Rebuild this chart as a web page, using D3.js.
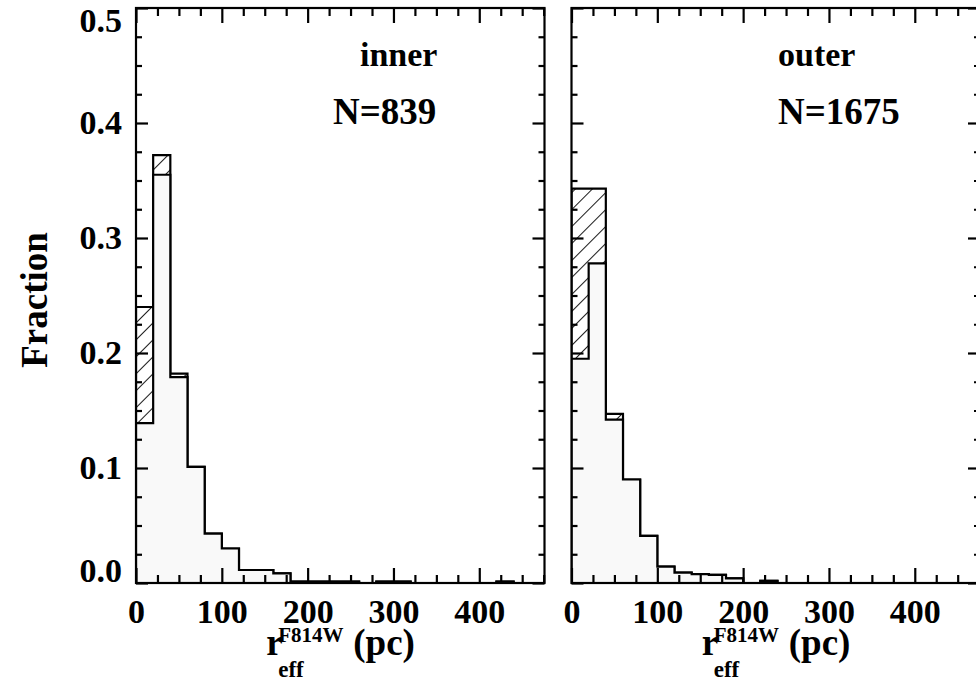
<!DOCTYPE html>
<html><head><meta charset="utf-8">
<script src="https://cdn.jsdelivr.net/npm/d3@7/dist/d3.min.js"></script>
<style>
body{margin:0;background:#fff}
svg{display:block}
text{font-family:"Liberation Serif","Times New Roman",serif;font-weight:bold;fill:#000}
</style>
</head><body>
<svg id="c" width="976" height="682"></svg>
<script>
// ---- data ----
const binStarts = [0,20,40,60,80,100,120,140,160,180,200,220,240,260,280,300,320,340,360,380,400,420,440,460];
const binWidth = 20;
const innerMain  = [0.139,0.355,0.179,0.101,0.043,0.030,0.0113,0.0113,0.0084,0.0012,0.0012,0.0012,0.0012,0,0.0012,0.0012,0,0,0,0,0,0.0012,0,0];
const innerHatch = [0.240,0.372,0.182,0.101,0.043,0.030,0.0113,0.0113,0.0084,0.0012,0.0012,0.0012,0.0012,0,0.0012,0.0012,0,0,0,0,0,0.0012,0,0];
const outerMain  = [0.195,0.278,0.142,0.090,0.041,0.0142,0.0090,0.0078,0.0070,0.0041,0,0.0018,0,0,0,0,0,0,0,0,0,0,0,0];
const outerHatch = [0.343,0.343,0.147,0.090,0.041,0.0142,0.0090,0.0078,0.0070,0.0041,0,0.0018,0,0,0,0,0,0,0,0,0,0,0,0];
const xMajor = [0,100,200,300,400];
const xMinor = [25,50,75,125,150,175,225,250,275,325,350,375,425,450,475];
const yMajor = [0.0,0.1,0.2,0.3,0.4,0.5];
const yMinor = [0.025,0.05,0.075,0.125,0.15,0.175,0.225,0.25,0.275,0.325,0.35,0.375,0.425,0.45,0.475];
const regionLabels = ["inner","outer"];
const countLabels = ["N=839","N=1675"];

// ---- layout ----
const W = 976, H = 682;
const yTop = 8, yBot = 583;
const panelRanges = [[136,544.5],[571.5,980]];
const xMax = 476;
const textPos = [{lx:360, nx:333},{lx:778, nx:778}];

const svg = d3.select("#c");
const defs = svg.append("defs");
const pat = defs.append("pattern").attr("id","hatch").attr("patternUnits","userSpaceOnUse")
  .attr("width",12).attr("height",12).attr("patternTransform","rotate(45)");
pat.append("rect").attr("width",12).attr("height",12).attr("fill","#fff");
pat.append("line").attr("x1",0).attr("y1",-2).attr("x2",0).attr("y2",14).attr("stroke","#000").attr("stroke-width",1.8);

const y = d3.scaleLinear().domain([0,0.5]).range([yBot,yTop]);

const series = [[innerMain,innerHatch],[outerMain,outerHatch]];

series.forEach(([main,hatch],i)=>{
  const [x0,x1] = panelRanges[i];
  const x = d3.scaleLinear().domain([0,xMax]).range([x0,x1]);
  const g = svg.append("g");
  defs.append("clipPath").attr("id","clip"+i).append("rect")
    .attr("x",x0).attr("y",yTop).attr("width",x1-x0).attr("height",yBot-yTop);
  const gc = g.append("g").attr("clip-path",`url(#clip${i})`);
  const pts = vals => binStarts.flatMap((b,k)=>[[b,vals[k]],[b+binWidth,vals[k]]]);
  const area = d3.area().x(d=>x(d[0])).y0(y(0)).y1(d=>y(d[1]));
  const line = d3.line().x(d=>x(d[0])).y(d=>y(d[1]));
  const lastEdge = binStarts[binStarts.length-1]+binWidth;
  // hatched histogram
  gc.append("path").datum(pts(hatch)).attr("d",area).attr("fill","url(#hatch)");
  gc.append("path").datum([[0,0],...pts(hatch),[lastEdge,0]]).attr("d",line)
    .attr("fill","none").attr("stroke","#000").attr("stroke-width",2.2).attr("stroke-linejoin","miter");
  // filled histogram
  gc.append("path").datum(pts(main)).attr("d",area).attr("fill","#f9f9f9");
  gc.append("path").datum([[0,0],...pts(main),[lastEdge,0]]).attr("d",line)
    .attr("fill","none").attr("stroke","#000").attr("stroke-width",2.2).attr("stroke-linejoin","miter");

  // axes ticks
  const styleAx = sel => { sel.select(".domain").remove(); sel.selectAll("line").attr("stroke","#000").attr("stroke-width",2.2); };
  g.append("g").attr("transform",`translate(0,${yBot})`)
    .call(d3.axisBottom(x).tickValues(xMinor).tickSize(-8).tickFormat("")).call(styleAx);
  g.append("g").attr("transform",`translate(0,${yTop})`)
    .call(d3.axisTop(x).tickValues(xMinor).tickSize(-8).tickFormat("")).call(styleAx);
  g.append("g").attr("transform",`translate(0,${yTop})`)
    .call(d3.axisTop(x).tickValues(xMajor).tickSize(-15).tickFormat("")).call(styleAx);
  const bx = g.append("g").attr("transform",`translate(0,${yBot})`)
    .call(d3.axisBottom(x).tickValues(xMajor).tickSize(-15).tickPadding(16).tickFormat(d3.format("d"))).call(styleAx);
  bx.selectAll("text").attr("font-size",34).attr("font-family",null);
  g.append("g").attr("transform",`translate(${x0},0)`)
    .call(d3.axisLeft(y).tickValues(yMinor).tickSize(-6).tickFormat("")).call(styleAx);
  g.append("g").attr("transform",`translate(${x1},0)`)
    .call(d3.axisRight(y).tickValues(yMinor).tickSize(-6).tickFormat("")).call(styleAx);
  g.append("g").attr("transform",`translate(${x1},0)`)
    .call(d3.axisRight(y).tickValues(yMajor).tickSize(-12).tickFormat("")).call(styleAx);
  const ly = g.append("g").attr("transform",`translate(${x0},0)`)
    .call(d3.axisLeft(y).tickValues(yMajor).tickSize(-12).tickPadding(14).tickFormat(i===0?d3.format(".1f"):"")).call(styleAx);
  ly.selectAll("text").attr("font-size",34).attr("font-family",null)
    .attr("dy", d => d===0.5 ? "0.68em" : d===0 ? "-0.03em" : "0.32em");

  // frame
  g.append("rect").attr("x",x0).attr("y",yTop).attr("width",x1-x0).attr("height",yBot-yTop)
    .attr("fill","none").attr("stroke","#000").attr("stroke-width",2.2);

  // labels
  g.append("text").attr("x",textPos[i].lx).attr("y",66).attr("font-size",34).text(regionLabels[i]);
  g.append("text").attr("x",textPos[i].nx).attr("y",124).attr("font-size",37).text(countLabels[i]);

  // x title
  const cx = (x0+x1)/2 - 74;
  g.append("text").attr("x",cx).attr("y",655).attr("font-size",37).text("r");
  g.append("text").attr("x",cx+12).attr("y",677).attr("font-size",23).text("eff");
  g.append("text").attr("x",cx+12).attr("y",642).attr("font-size",21).text("F814W");
  g.append("text").attr("x",cx+87).attr("y",655).attr("font-size",37).text("(pc)");
});

svg.append("text").attr("transform","translate(47,300) rotate(-90)").attr("text-anchor","middle")
  .attr("font-size",37).text("Fraction");
</script>
</body></html>
